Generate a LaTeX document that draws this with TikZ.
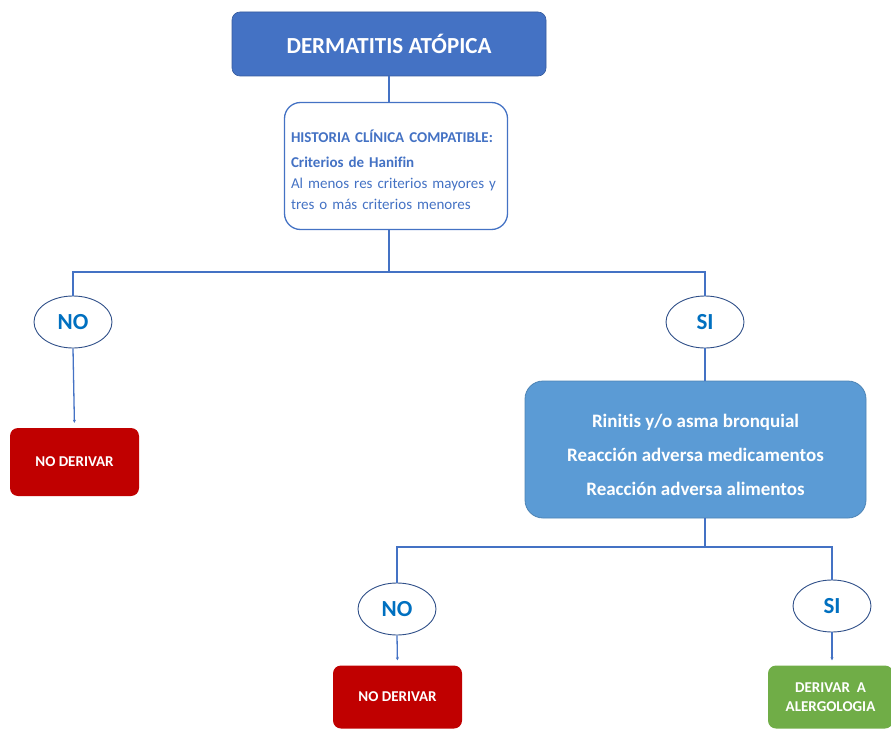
\documentclass[tikz,border=0pt]{standalone}
\usepackage{fontspec}
\setmainfont{Carlito}[Ligatures=NoCommon]
\usetikzlibrary{shapes.geometric,arrows.meta}
\definecolor{azul}{HTML}{4472C4}
\definecolor{azulclaro}{HTML}{5B9BD5}
\definecolor{azulno}{HTML}{0070C0}
\definecolor{rojo}{HTML}{C00000}
\definecolor{verde}{HTML}{70AD47}
\begin{document}
\begin{tikzpicture}
[x=1pt,y=-1pt,
linea/.style={draw=azul,line width=1.3pt},
flecha/.style={linea,-{Stealth[length=3pt,width=3pt]},shorten >=5pt},
titlebox/.style={rectangle,rounded corners=8pt,fill=azul,draw=azul!80!black,line width=0.6pt,
  minimum width=314pt,minimum height=64pt,text=white,font=\bfseries\fontsize{23}{26}\selectfont},
histbox/.style={rectangle,rounded corners=16pt,fill=white,draw=azul,line width=1.3pt,
  minimum width=223pt,minimum height=127pt,text width=210pt,align=left,text=azul,
  font=\fontsize{15}{21}\selectfont},
decision/.style={ellipse,draw=azul!70!black,line width=0.9pt,fill=white,inner sep=0pt,
  minimum width=78pt,minimum height=52pt,text=azulno,font=\bfseries\fontsize{23}{26}\selectfont},
factbox/.style={rectangle,rounded corners=18pt,fill=azulclaro,draw=azulclaro!85!black,line width=0.8pt,
  minimum width=341pt,minimum height=137pt,text=white,align=center,
  font=\bfseries\fontsize{19}{34}\selectfont},
finbox/.style={rectangle,rounded corners=8pt,inner sep=0pt,minimum width=129pt,minimum height=68pt,
  text=white,align=center,font=\bfseries\fontsize{15}{19}\selectfont}]
\useasboundingbox (0,0) rectangle (891,730);
\node[titlebox] (titulo) at (389,44) {DERMATITIS ATÓPICA};
\node[histbox] (historia) at (396,166) {\rule{0pt}{20pt}\textbf{HISTORIA CLÍNICA COMPATIBLE:}\\[4pt]
\textbf{Criterios de Hanifin}\\Al menos res criterios mayores y\\tres o más criterios menores};
\coordinate (rama1) at (389,272);
\node[decision] (no1) at (73,322) {NO};
\node[decision] (si1) at (705,322) {SI};
\node[finbox,fill=rojo] (noderivar1) at (74.5,462) {NO DERIVAR};
\node[factbox] (factores) at (695.5,449.5) {\rule{0pt}{24pt}Rinitis y/o asma bronquial\\Reacción adversa medicamentos\\Reacción adversa alimentos};
\coordinate (rama2) at (705,547);
\node[decision] (no2) at (397,609) {NO};
\node[decision] (si2) at (832,606) {SI};
\node[finbox,fill=rojo,minimum height=63pt] (noderivar2) at (397.5,697) {NO DERIVAR};
\node[finbox,fill=verde,minimum height=63pt,minimum width=125pt] (alergo) at (830.5,697) {DERIVAR\ \ A\\ALERGOLOGIA};
\draw[linea] (titulo.south) -- (titulo.south |- historia.north);
\draw[linea] (historia.south -| rama1) -- (rama1);
\draw[linea] (no1.north) |- (rama1) -| (si1.north);
\draw[flecha] (no1.south) -- (noderivar1.north);
\draw[linea] (si1.south) -- (si1.south |- factores.north);
\draw[linea] (rama2 |- factores.south) -- (rama2);
\draw[linea] (no2.north) |- (rama2) -| (si2.north);
\draw[flecha] (no2.south) -- (noderivar2.north);
\draw[flecha] (si2.south) -- (si2.south |- alergo.north);
\end{tikzpicture}
\end{document}
